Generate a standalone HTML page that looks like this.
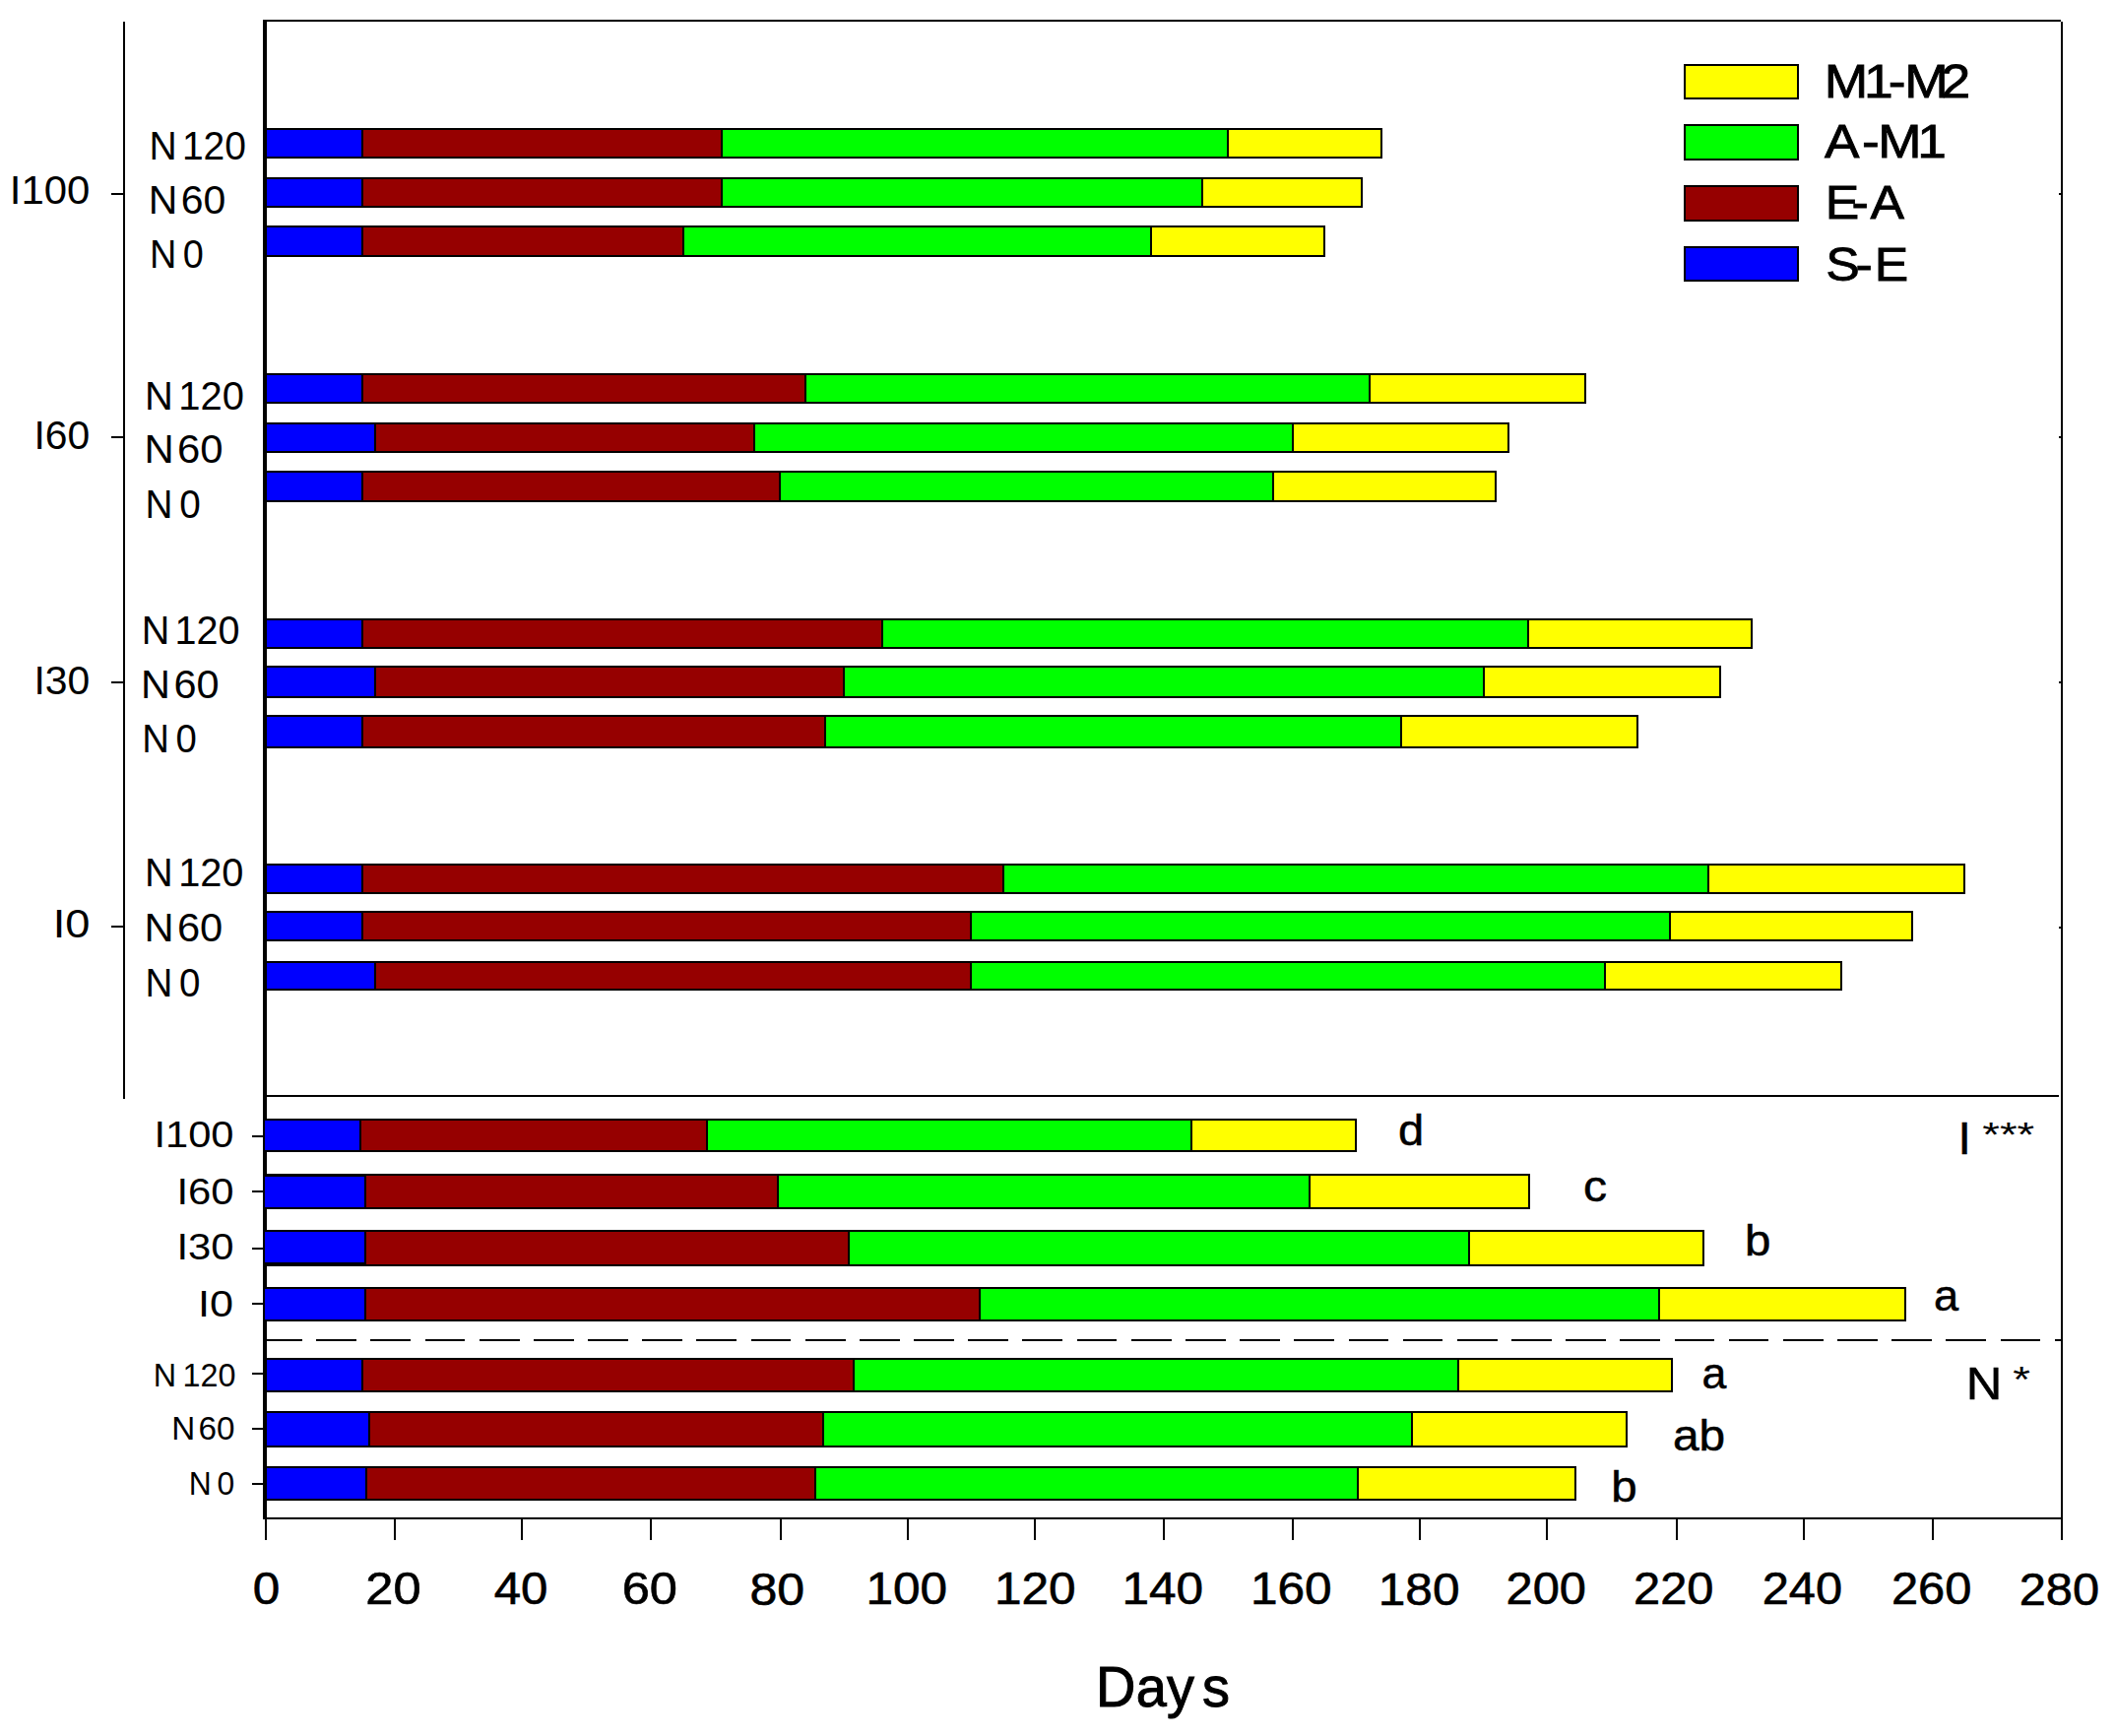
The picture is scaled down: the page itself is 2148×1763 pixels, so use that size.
<!DOCTYPE html>
<html lang="en"><head><meta charset="utf-8"><title>Days chart</title>
<style>html,body{margin:0;padding:0;background:#fff}body{width:2148px;height:1763px;position:relative;overflow:hidden}</style></head>
<body>
<svg width="2148" height="1763" viewBox="0 0 2148 1763" style="position:absolute;left:0;top:0" font-family="&quot;Liberation Sans&quot;, Arial, sans-serif" fill="#000">
<rect width="2148" height="1763" fill="#fff"/>
<g shape-rendering="crispEdges">
<rect x="267" y="20" width="1826" height="2" fill="#000"/>
<rect x="2093" y="22" width="2" height="1542" fill="#000"/>
<rect x="267" y="1541" width="1828" height="2" fill="#000"/>
<rect x="125" y="22" width="2" height="1094" fill="#000"/>
<rect x="271" y="1112" width="1820" height="2" fill="#000"/>
<rect x="271" y="1360" width="36" height="2" fill="#000"/>
<rect x="321" y="1360" width="41" height="2" fill="#000"/>
<rect x="376" y="1360" width="41" height="2" fill="#000"/>
<rect x="432" y="1360" width="40" height="2" fill="#000"/>
<rect x="487" y="1360" width="41" height="2" fill="#000"/>
<rect x="542" y="1360" width="41" height="2" fill="#000"/>
<rect x="597" y="1360" width="41" height="2" fill="#000"/>
<rect x="652" y="1360" width="41" height="2" fill="#000"/>
<rect x="707" y="1360" width="41" height="2" fill="#000"/>
<rect x="763" y="1360" width="40" height="2" fill="#000"/>
<rect x="818" y="1360" width="41" height="2" fill="#000"/>
<rect x="873" y="1360" width="41" height="2" fill="#000"/>
<rect x="928" y="1360" width="41" height="2" fill="#000"/>
<rect x="983" y="1360" width="41" height="2" fill="#000"/>
<rect x="1038" y="1360" width="41" height="2" fill="#000"/>
<rect x="1094" y="1360" width="40" height="2" fill="#000"/>
<rect x="1149" y="1360" width="41" height="2" fill="#000"/>
<rect x="1204" y="1360" width="41" height="2" fill="#000"/>
<rect x="1259" y="1360" width="41" height="2" fill="#000"/>
<rect x="1314" y="1360" width="41" height="2" fill="#000"/>
<rect x="1370" y="1360" width="40" height="2" fill="#000"/>
<rect x="1425" y="1360" width="40" height="2" fill="#000"/>
<rect x="1480" y="1360" width="41" height="2" fill="#000"/>
<rect x="1535" y="1360" width="41" height="2" fill="#000"/>
<rect x="1590" y="1360" width="41" height="2" fill="#000"/>
<rect x="1645" y="1360" width="41" height="2" fill="#000"/>
<rect x="1701" y="1360" width="40" height="2" fill="#000"/>
<rect x="1756" y="1360" width="40" height="2" fill="#000"/>
<rect x="1811" y="1360" width="41" height="2" fill="#000"/>
<rect x="1866" y="1360" width="41" height="2" fill="#000"/>
<rect x="1921" y="1360" width="41" height="2" fill="#000"/>
<rect x="1976" y="1360" width="41" height="2" fill="#000"/>
<rect x="2032" y="1360" width="40" height="2" fill="#000"/>
<rect x="2087" y="1360" width="6" height="2" fill="#000"/>
<rect x="269" y="1543" width="2" height="21" fill="#000"/>
<rect x="400" y="1543" width="2" height="21" fill="#000"/>
<rect x="529" y="1543" width="2" height="21" fill="#000"/>
<rect x="660" y="1543" width="2" height="21" fill="#000"/>
<rect x="792" y="1543" width="2" height="21" fill="#000"/>
<rect x="921" y="1543" width="2" height="21" fill="#000"/>
<rect x="1050" y="1543" width="2" height="21" fill="#000"/>
<rect x="1181" y="1543" width="2" height="21" fill="#000"/>
<rect x="1312" y="1543" width="2" height="21" fill="#000"/>
<rect x="1441" y="1543" width="2" height="21" fill="#000"/>
<rect x="1570" y="1543" width="2" height="21" fill="#000"/>
<rect x="1702" y="1543" width="2" height="21" fill="#000"/>
<rect x="1831" y="1543" width="2" height="21" fill="#000"/>
<rect x="1962" y="1543" width="2" height="21" fill="#000"/>
<rect x="113" y="196" width="12" height="2" fill="#000"/>
<rect x="2091" y="196" width="2" height="2" fill="#000"/>
<rect x="113" y="443" width="12" height="2" fill="#000"/>
<rect x="2091" y="443" width="2" height="2" fill="#000"/>
<rect x="113" y="692" width="12" height="2" fill="#000"/>
<rect x="2091" y="692" width="2" height="2" fill="#000"/>
<rect x="113" y="940" width="12" height="2" fill="#000"/>
<rect x="2091" y="941" width="2" height="2" fill="#000"/>
<rect x="256" y="1153" width="11" height="2" fill="#000"/>
<rect x="256" y="1209" width="11" height="2" fill="#000"/>
<rect x="256" y="1267" width="11" height="2" fill="#000"/>
<rect x="256" y="1323" width="11" height="2" fill="#000"/>
<rect x="256" y="1394" width="11" height="2" fill="#000"/>
<rect x="256" y="1450" width="11" height="2" fill="#000"/>
<rect x="256" y="1506" width="11" height="2" fill="#000"/>
<rect x="269" y="130" width="1135" height="31" fill="#000"/>
<rect x="271" y="132" width="96" height="27" fill="#0000ff"/>
<rect x="369" y="132" width="363" height="27" fill="#960000"/>
<rect x="734" y="132" width="512" height="27" fill="#00ff00"/>
<rect x="1248" y="132" width="154" height="27" fill="#ffff00"/>
<rect x="269" y="180" width="1115" height="31" fill="#000"/>
<rect x="271" y="182" width="96" height="27" fill="#0000ff"/>
<rect x="369" y="182" width="363" height="27" fill="#960000"/>
<rect x="734" y="182" width="486" height="27" fill="#00ff00"/>
<rect x="1222" y="182" width="160" height="27" fill="#ffff00"/>
<rect x="269" y="229" width="1077" height="32" fill="#000"/>
<rect x="271" y="231" width="96" height="28" fill="#0000ff"/>
<rect x="369" y="231" width="324" height="28" fill="#960000"/>
<rect x="695" y="231" width="473" height="28" fill="#00ff00"/>
<rect x="1170" y="231" width="174" height="28" fill="#ffff00"/>
<rect x="269" y="379" width="1342" height="31" fill="#000"/>
<rect x="271" y="381" width="96" height="27" fill="#0000ff"/>
<rect x="369" y="381" width="448" height="27" fill="#960000"/>
<rect x="819" y="381" width="571" height="27" fill="#00ff00"/>
<rect x="1392" y="381" width="217" height="27" fill="#ffff00"/>
<rect x="269" y="429" width="1264" height="31" fill="#000"/>
<rect x="271" y="431" width="109" height="27" fill="#0000ff"/>
<rect x="382" y="431" width="383" height="27" fill="#960000"/>
<rect x="767" y="431" width="545" height="27" fill="#00ff00"/>
<rect x="1314" y="431" width="217" height="27" fill="#ffff00"/>
<rect x="269" y="478" width="1251" height="32" fill="#000"/>
<rect x="271" y="480" width="96" height="28" fill="#0000ff"/>
<rect x="369" y="480" width="422" height="28" fill="#960000"/>
<rect x="793" y="480" width="499" height="28" fill="#00ff00"/>
<rect x="1294" y="480" width="224" height="28" fill="#ffff00"/>
<rect x="269" y="628" width="1511" height="31" fill="#000"/>
<rect x="271" y="630" width="96" height="27" fill="#0000ff"/>
<rect x="369" y="630" width="526" height="27" fill="#960000"/>
<rect x="897" y="630" width="654" height="27" fill="#00ff00"/>
<rect x="1553" y="630" width="225" height="27" fill="#ffff00"/>
<rect x="269" y="676" width="1479" height="33" fill="#000"/>
<rect x="271" y="678" width="109" height="29" fill="#0000ff"/>
<rect x="382" y="678" width="474" height="29" fill="#960000"/>
<rect x="858" y="678" width="648" height="29" fill="#00ff00"/>
<rect x="1508" y="678" width="238" height="29" fill="#ffff00"/>
<rect x="269" y="726" width="1395" height="34" fill="#000"/>
<rect x="271" y="728" width="96" height="30" fill="#0000ff"/>
<rect x="369" y="728" width="468" height="30" fill="#960000"/>
<rect x="839" y="728" width="583" height="30" fill="#00ff00"/>
<rect x="1424" y="728" width="238" height="30" fill="#ffff00"/>
<rect x="269" y="877" width="1727" height="31" fill="#000"/>
<rect x="271" y="879" width="96" height="27" fill="#0000ff"/>
<rect x="369" y="879" width="649" height="27" fill="#960000"/>
<rect x="1020" y="879" width="714" height="27" fill="#00ff00"/>
<rect x="1736" y="879" width="258" height="27" fill="#ffff00"/>
<rect x="269" y="925" width="1674" height="31" fill="#000"/>
<rect x="271" y="927" width="96" height="27" fill="#0000ff"/>
<rect x="369" y="927" width="616" height="27" fill="#960000"/>
<rect x="987" y="927" width="708" height="27" fill="#00ff00"/>
<rect x="1697" y="927" width="244" height="27" fill="#ffff00"/>
<rect x="269" y="976" width="1602" height="30" fill="#000"/>
<rect x="271" y="978" width="109" height="26" fill="#0000ff"/>
<rect x="382" y="978" width="603" height="26" fill="#960000"/>
<rect x="987" y="978" width="642" height="26" fill="#00ff00"/>
<rect x="1631" y="978" width="238" height="26" fill="#ffff00"/>
<rect x="269" y="1379" width="1430" height="35" fill="#000"/>
<rect x="271" y="1381" width="96" height="31" fill="#0000ff"/>
<rect x="369" y="1381" width="497" height="31" fill="#960000"/>
<rect x="868" y="1381" width="612" height="31" fill="#00ff00"/>
<rect x="1482" y="1381" width="215" height="31" fill="#ffff00"/>
<rect x="269" y="1433" width="1384" height="37" fill="#000"/>
<rect x="271" y="1435" width="103" height="33" fill="#0000ff"/>
<rect x="376" y="1435" width="459" height="33" fill="#960000"/>
<rect x="837" y="1435" width="596" height="33" fill="#00ff00"/>
<rect x="1435" y="1435" width="216" height="33" fill="#ffff00"/>
<rect x="269" y="1489" width="1332" height="35" fill="#000"/>
<rect x="271" y="1491" width="100" height="31" fill="#0000ff"/>
<rect x="373" y="1491" width="454" height="31" fill="#960000"/>
<rect x="829" y="1491" width="549" height="31" fill="#00ff00"/>
<rect x="1380" y="1491" width="219" height="31" fill="#ffff00"/>
<rect x="267" y="20" width="4" height="1523" fill="#000"/>
<rect x="267" y="1136" width="1111" height="34" fill="#000"/>
<rect x="269" y="1138" width="96" height="30" fill="#0000ff"/>
<rect x="367" y="1138" width="350" height="30" fill="#960000"/>
<rect x="719" y="1138" width="490" height="30" fill="#00ff00"/>
<rect x="1211" y="1138" width="165" height="30" fill="#ffff00"/>
<rect x="267" y="1192" width="1287" height="36" fill="#000"/>
<rect x="269" y="1194" width="101" height="32" fill="#0000ff"/>
<rect x="372" y="1194" width="417" height="32" fill="#960000"/>
<rect x="791" y="1194" width="538" height="32" fill="#00ff00"/>
<rect x="1331" y="1194" width="221" height="32" fill="#ffff00"/>
<rect x="267" y="1249" width="1464" height="37" fill="#000"/>
<rect x="269" y="1251" width="101" height="33" fill="#0000ff"/>
<rect x="372" y="1251" width="489" height="33" fill="#960000"/>
<rect x="863" y="1251" width="628" height="33" fill="#00ff00"/>
<rect x="1493" y="1251" width="236" height="33" fill="#ffff00"/>
<rect x="267" y="1307" width="1669" height="35" fill="#000"/>
<rect x="269" y="1309" width="101" height="31" fill="#0000ff"/>
<rect x="372" y="1309" width="622" height="31" fill="#960000"/>
<rect x="996" y="1309" width="688" height="31" fill="#00ff00"/>
<rect x="1686" y="1309" width="248" height="31" fill="#ffff00"/>
<rect x="267" y="1192" width="103" height="3" fill="#000"/>
<rect x="267" y="1282" width="103" height="4" fill="#000"/>
<rect x="1710" y="65" width="117" height="36" fill="#000"/>
<rect x="1712" y="67" width="113" height="32" fill="#ffff00"/>
<rect x="1710" y="126" width="117" height="37" fill="#000"/>
<rect x="1712" y="128" width="113" height="33" fill="#00ff00"/>
<rect x="1710" y="188" width="117" height="37" fill="#000"/>
<rect x="1712" y="190" width="113" height="33" fill="#960000"/>
<rect x="1710" y="250" width="117" height="36" fill="#000"/>
<rect x="1712" y="252" width="113" height="32" fill="#0000ff"/>
</g>
<text transform="translate(9.83,207.00) scale(1.0211,1)" font-size="41.0">I100</text>
<text transform="translate(34.53,456.10) scale(0.9957,1)" font-size="41.0">I60</text>
<text transform="translate(34.53,705.40) scale(0.9957,1)" font-size="41.0">I30</text>
<text transform="translate(53.73,952.20) scale(1.1026,1)" font-size="41.0">I0</text>
<text transform="translate(151.46,162.28) scale(0.9586,1)" font-size="40.7"><tspan x="0">N</tspan><tspan x="34.88">120</tspan></text>
<text transform="translate(150.77,216.88) scale(1.0053,1)" font-size="40.7"><tspan x="0">N</tspan><tspan x="32.77">60</tspan></text>
<text transform="translate(151.89,271.78) scale(0.9290,1)" font-size="40.7"><tspan x="0">N</tspan><tspan x="36.45">0</tspan></text>
<text transform="translate(147.09,415.68) scale(0.9811,1)" font-size="40.7"><tspan x="0">N</tspan><tspan x="34.86">120</tspan></text>
<text transform="translate(146.39,470.08) scale(1.0289,1)" font-size="40.7"><tspan x="0">N</tspan><tspan x="32.75">60</tspan></text>
<text transform="translate(147.54,525.78) scale(0.9512,1)" font-size="40.7"><tspan x="0">N</tspan><tspan x="36.42">0</tspan></text>
<text transform="translate(143.72,653.58) scale(0.9713,1)" font-size="40.7"><tspan x="0">N</tspan><tspan x="34.87">120</tspan></text>
<text transform="translate(143.02,708.78) scale(1.0186,1)" font-size="40.7"><tspan x="0">N</tspan><tspan x="32.76">60</tspan></text>
<text transform="translate(144.16,764.48) scale(0.9415,1)" font-size="40.7"><tspan x="0">N</tspan><tspan x="36.44">0</tspan></text>
<text transform="translate(147.11,899.98) scale(0.9762,1)" font-size="40.7"><tspan x="0">N</tspan><tspan x="34.86">120</tspan></text>
<text transform="translate(146.41,955.58) scale(1.0238,1)" font-size="40.7"><tspan x="0">N</tspan><tspan x="32.75">60</tspan></text>
<text transform="translate(147.55,1011.68) scale(0.9464,1)" font-size="40.7"><tspan x="0">N</tspan><tspan x="36.43">0</tspan></text>
<text transform="translate(156.56,1164.60) scale(1.1091,1)" font-size="37.5">I100</text>
<text transform="translate(179.44,1222.50) scale(1.1139,1)" font-size="37.5">I60</text>
<text transform="translate(179.44,1278.50) scale(1.1139,1)" font-size="37.5">I30</text>
<text transform="translate(200.91,1336.60) scale(1.1528,1)" font-size="37.5">I0</text>
<text transform="translate(155.73,1407.70) scale(0.9855,1)" font-size="32.8"><tspan x="0">N</tspan><tspan x="30.16">120</tspan></text>
<text transform="translate(174.35,1461.80) scale(1.0136,1)" font-size="32.8"><tspan x="0">N</tspan><tspan x="26.72">60</tspan></text>
<text transform="translate(191.87,1517.50) scale(0.9698,1)" font-size="32.8"><tspan x="0">N</tspan><tspan x="29.60">0</tspan></text>
<text transform="translate(1420.12,1163.24) scale(1.0546,1)" font-size="44.6" stroke="#000" stroke-width="0.5">d</text>
<text transform="translate(1608.08,1220.48) scale(1.0773,1)" font-size="44.6" stroke="#000" stroke-width="0.5">c</text>
<text transform="translate(1772.05,1274.74) scale(1.0644,1)" font-size="44.6" stroke="#000" stroke-width="0.5">b</text>
<text transform="translate(1963.99,1331.28) scale(1.0133,1)" font-size="44.6" stroke="#000" stroke-width="0.5">a</text>
<text transform="translate(1728.62,1410.38) scale(1.0003,1)" font-size="44.6" stroke="#000" stroke-width="0.5">a</text>
<text transform="translate(1698.89,1473.04) scale(1.0720,1)" font-size="44.6" stroke="#000" stroke-width="0.5">ab</text>
<text transform="translate(1636.15,1525.44) scale(1.0644,1)" font-size="44.6" stroke="#000" stroke-width="0.5">b</text>
<text transform="translate(1988.38,1171.78) scale(1.0390,1)" font-size="46.2" stroke="#000" stroke-width="0.5">I</text>
<text transform="translate(2013.32,1164.39) scale(1.2874,1)" font-size="35.21">***</text>
<text transform="translate(1996.65,1420.68) scale(1.0957,1)" font-size="46.2" stroke="#000" stroke-width="0.5">N</text>
<text transform="translate(2044.22,1413.78) scale(1.2633,1)" font-size="36.06">*</text>
<text transform="translate(1852.65,98.90) scale(1.1125,1)" font-size="48" stroke="#000" stroke-width="0.8"><tspan x="0">M</tspan><tspan x="36.34">1</tspan><tspan x="58.55">-</tspan><tspan x="73.39">M</tspan><tspan x="106.87">2</tspan></text>
<text transform="translate(1852.88,160.32) scale(1.1084,1)" font-size="48" stroke="#000" stroke-width="0.8"><tspan x="0">A</tspan><tspan x="34.41">-</tspan><tspan x="49.09">M</tspan><tspan x="85.08">1</tspan></text>
<text transform="translate(1853.81,222.12) scale(1.0779,1)" font-size="48" stroke="#000" stroke-width="0.8"><tspan x="0">E</tspan><tspan x="24.68">-</tspan><tspan x="42.45">A</tspan></text>
<text transform="translate(1854.13,285.14) scale(1.0773,1)" font-size="48" stroke="#000" stroke-width="0.8"><tspan x="0">S</tspan><tspan x="28.26">-</tspan><tspan x="46.18">E</tspan></text>
<text transform="translate(256.87,1629.32) scale(1.0852,1)" font-size="45.6" stroke="#000" stroke-width="0.6">0</text>
<text transform="translate(371.27,1629.32) scale(1.1092,1)" font-size="45.6" stroke="#000" stroke-width="0.6">20</text>
<text transform="translate(501.77,1629.32) scale(1.0776,1)" font-size="45.6" stroke="#000" stroke-width="0.6">40</text>
<text transform="translate(631.67,1629.32) scale(1.1092,1)" font-size="45.6" stroke="#000" stroke-width="0.6">60</text>
<text transform="translate(761.40,1629.55) scale(1.0984,1)" font-size="45.6" stroke="#000" stroke-width="0.6">80</text>
<text transform="translate(879.38,1629.32) scale(1.0871,1)" font-size="45.6" stroke="#000" stroke-width="0.6">100</text>
<text transform="translate(1009.98,1629.32) scale(1.0871,1)" font-size="45.6" stroke="#000" stroke-width="0.6">120</text>
<text transform="translate(1139.38,1629.32) scale(1.0871,1)" font-size="45.6" stroke="#000" stroke-width="0.6">140</text>
<text transform="translate(1269.98,1629.32) scale(1.0871,1)" font-size="45.6" stroke="#000" stroke-width="0.6">160</text>
<text transform="translate(1399.78,1629.55) scale(1.0871,1)" font-size="45.6" stroke="#000" stroke-width="0.6">180</text>
<text transform="translate(1529.61,1629.32) scale(1.0699,1)" font-size="45.6" stroke="#000" stroke-width="0.6">200</text>
<text transform="translate(1659.01,1629.32) scale(1.0699,1)" font-size="45.6" stroke="#000" stroke-width="0.6">220</text>
<text transform="translate(1789.71,1629.32) scale(1.0699,1)" font-size="45.6" stroke="#000" stroke-width="0.6">240</text>
<text transform="translate(1920.91,1629.32) scale(1.0699,1)" font-size="45.6" stroke="#000" stroke-width="0.6">260</text>
<text transform="translate(2050.71,1629.55) scale(1.0699,1)" font-size="45.6" stroke="#000" stroke-width="0.6">280</text>
<text transform="translate(1113.09,1733.34) scale(0.9758,1)" font-size="57.3" stroke="#000" stroke-width="1.0"><tspan x="0">D</tspan><tspan x="41.69">a</tspan><tspan x="73.77">y</tspan><tspan x="110.54">s</tspan></text>
</svg>
</body></html>
